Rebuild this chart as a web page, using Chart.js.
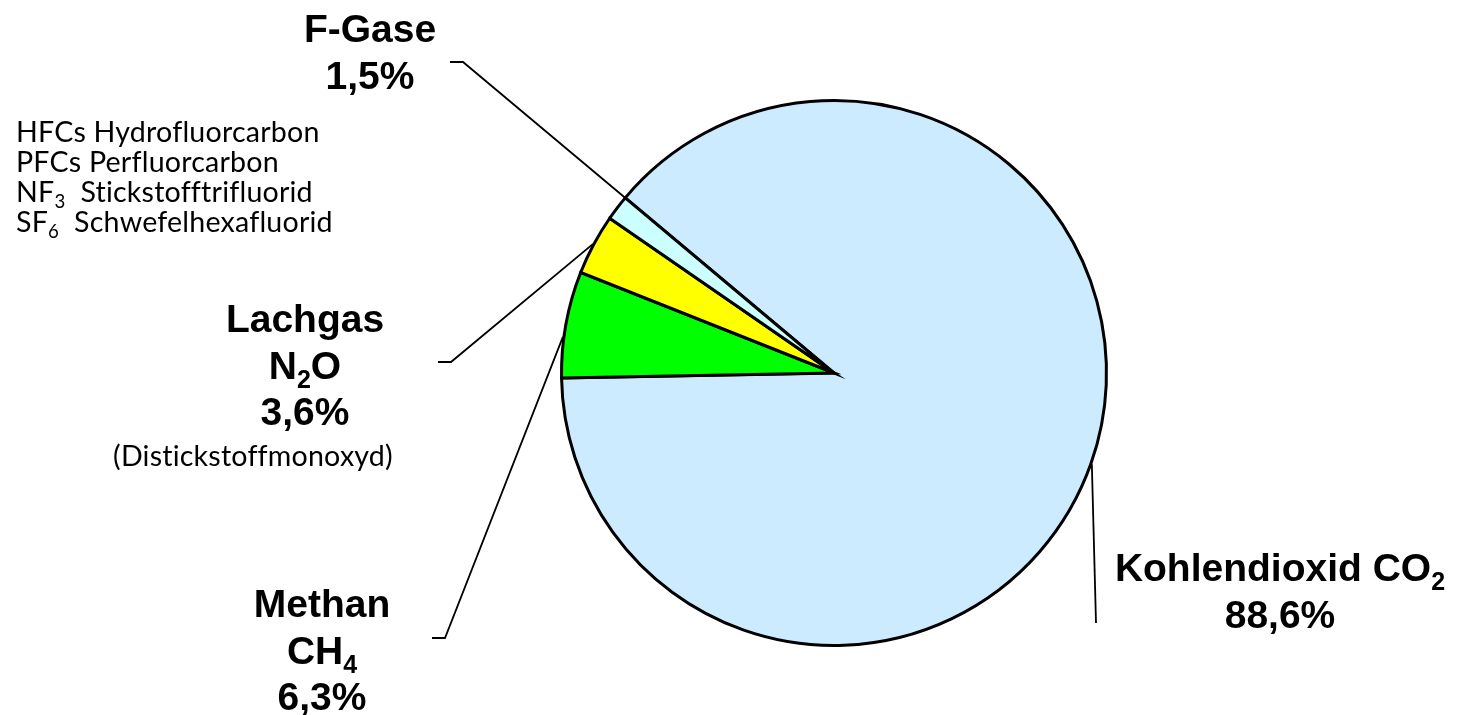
<!DOCTYPE html>
<html>
<head>
<meta charset="utf-8">
<script src="https://cdn.jsdelivr.net/npm/chart.js@4.4.1/dist/chart.umd.min.js"></script>
<style>
  html, body { margin: 0; padding: 0; background: #fff; }
  #wrap { width: 1461px; height: 715px; position: relative; }
</style>
</head>
<body>
<div id="wrap"><canvas id="pie" width="1461" height="715"></canvas></div>
<script>
// data
const categories = ['Kohlendioxid CO2', 'Methan CH4', 'Lachgas N2O', 'F-Gase'];
const shares = [88.6, 6.3, 3.6, 1.5];
const sliceColors = ['#CCEBFF', '#00FF00', '#FFFF00', '#CCFFFF'];
const shareLabels = ['88,6%', '6,3%', '3,6%', '1,5%'];
const fgasList = [
  [{t: 'HFCs Hydrofluorcarbon'}],
  [{t: 'PFCs Perfluorcarbon'}],
  [{t: 'NF'}, {t: '3', sub: true}, {t: '  Stickstofftrifluorid'}],
  [{t: 'SF'}, {t: '6', sub: true}, {t: '  Schwefelhexafluorid'}]
];

const BOLD = 'bold 39px "Liberation Sans", Arial, sans-serif';
const BOLD_SUB = 'bold 25px "Liberation Sans", Arial, sans-serif';

// label blocks: which slice, centre x, baselines, leader line
const labels = [
  { slice: 3, cx: 370, lines: [[{t: 'F-Gase'}], [{t: shareLabels[3]}]], base: 42,
    elbow: [[450, 62], [463, 62]], at: 1.0 },
  { slice: 2, cx: 305, lines: [[{t: 'Lachgas'}], [{t: 'N'}, {t: '2', sub: true}, {t: 'O'}], [{t: shareLabels[2]}]], base: 332,
    elbow: [[438, 362], [451, 362]], at: 0.5 },
  { slice: 1, cx: 322, lines: [[{t: 'Methan'}], [{t: 'CH'}, {t: '4', sub: true}], [{t: shareLabels[1]}]], base: 617,
    elbow: [[432, 638], [445, 638]], at: 0.38 },
  { slice: 0, cx: 1280, lines: [[{t: 'Kohlendioxid CO'}, {t: '2', sub: true}], [{t: shareLabels[0]}]], base: 581,
    elbow: [[1096, 623]], at: 0.5 }
];

function runWidth(ctx, runs, font, subFont) {
  let w = 0;
  runs.forEach(r => { ctx.font = r.sub ? subFont : font; w += ctx.measureText(r.t).width; });
  return w;
}

function drawRuns(ctx, runs, x, y, font, subFont, subDrop) {
  runs.forEach(r => {
    ctx.font = r.sub ? subFont : font;
    ctx.fillText(r.t, x, r.sub ? y + subDrop : y);
    x += ctx.measureText(r.t).width;
  });
}

const labelPlugin = {
  id: 'labelPlugin',
  afterDraw(chart) {
    const ctx = chart.ctx;
    const arcs = chart.getDatasetMeta(0).data;
    ctx.save();
    ctx.fillStyle = '#000';
    ctx.textBaseline = 'alphabetic';
    ctx.textAlign = 'left';

    labels.forEach(lb => {
      // text
      lb.lines.forEach((runs, i) => {
        const w = runWidth(ctx, runs, BOLD, BOLD_SUB);
        drawRuns(ctx, runs, lb.cx - w / 2, lb.base + i * 46.5, BOLD, BOLD_SUB, 9);
      });
      // leader line to the slice edge
      const a = arcs[lb.slice].getProps(['x', 'y', 'startAngle', 'endAngle', 'outerRadius'], true);
      const ang = a.startAngle + (a.endAngle - a.startAngle) * lb.at;
      const r = a.outerRadius + 1;
      ctx.beginPath();
      ctx.lineWidth = 1.8;
      ctx.strokeStyle = '#000';
      ctx.moveTo(lb.elbow[0][0], lb.elbow[0][1]);
      for (let k = 1; k < lb.elbow.length; k++) ctx.lineTo(lb.elbow[k][0], lb.elbow[k][1]);
      ctx.lineTo(a.x + Math.cos(ang) * r, a.y + Math.sin(ang) * r);
      ctx.stroke();
    });

    // small text list of F-gases, sized to the width seen in the picture
    ctx.letterSpacing = '0.2px'; // no ligatures
    ctx.font = '26px Lato, sans-serif';
    const k = 304 / ctx.measureText('HFCs Hydrofluorcarbon').width;
    const sz = 26 * k;
    const small = sz.toFixed(1) + 'px Lato, sans-serif';
    const smallSub = (sz * 0.65).toFixed(1) + 'px Lato, sans-serif';
    fgasList.forEach((runs, i) => {
      drawRuns(ctx, runs, 16, 142 + i * 30, small, smallSub, 6);
    });
    ctx.font = small;
    const dw = ctx.measureText('(Distickstoffmonoxyd)').width;
    ctx.fillText('(Distickstoffmonoxyd)', 253 - dw / 2, 466);
    ctx.restore();
  }
};

new Chart(document.getElementById('pie'), {
  type: 'pie',
  data: {
    labels: categories,
    datasets: [{
      data: shares,
      backgroundColor: sliceColors,
      borderColor: '#000',
      borderWidth: 3,
      borderJoinStyle: 'miter'
    }]
  },
  options: {
    responsive: false,
    animation: false,
    rotation: -50,
    layout: { padding: { left: 560, right: 353, top: 99, bottom: 68 } },
    plugins: {
      legend: { display: false },
      tooltip: { enabled: false }
    }
  },
  plugins: [labelPlugin]
});
</script>
</body>
</html>
